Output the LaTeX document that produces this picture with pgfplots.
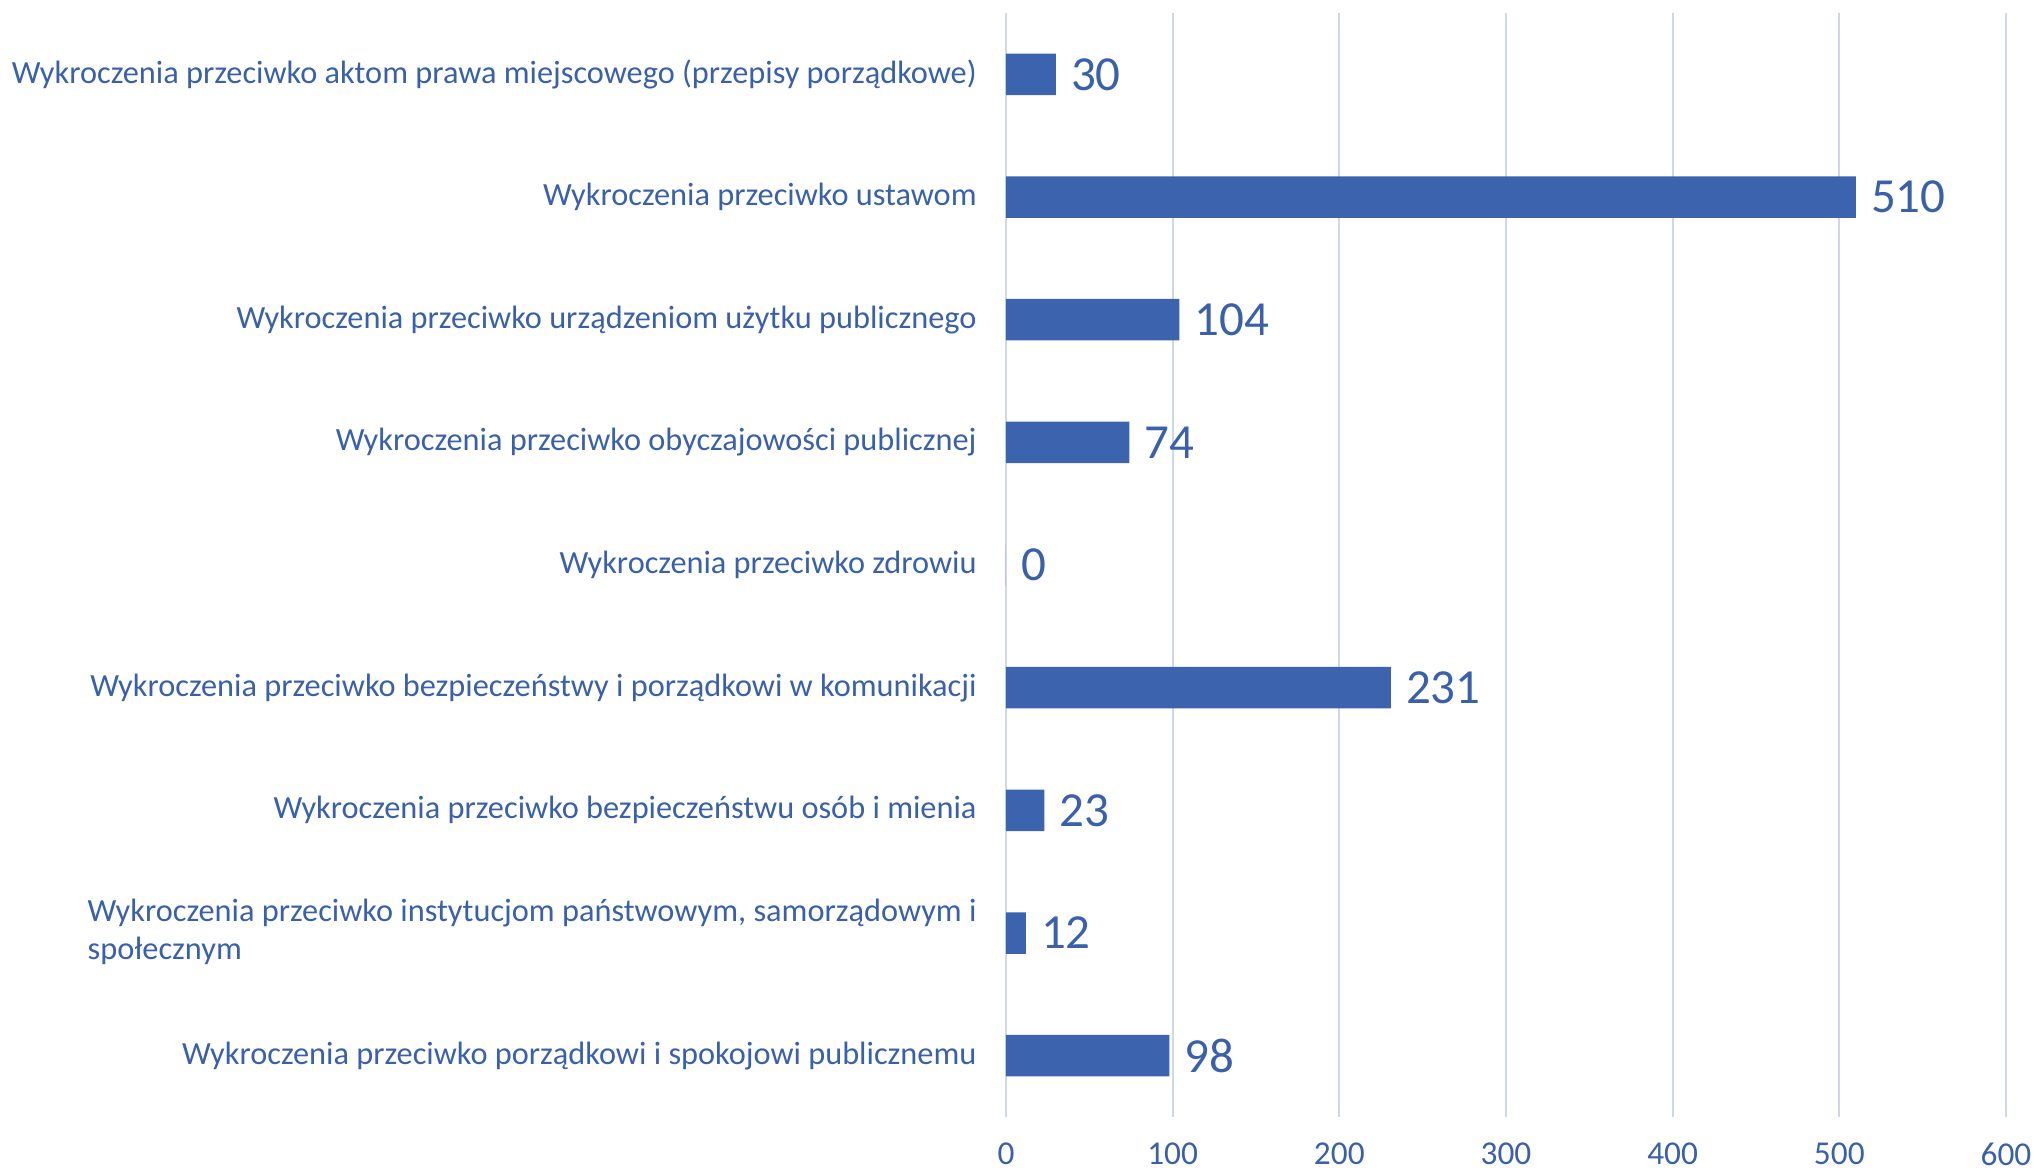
\documentclass[border=0pt]{standalone}
\usepackage{pgfplots}
\pgfplotsset{compat=1.18}
\usepackage{fontspec}
\setmainfont{Carlito}
\definecolor{barblue}{RGB}{60,100,174}
\definecolor{txtblue}{RGB}{58,96,170}
\definecolor{gridc}{RGB}{208,216,232}

\begin{document}
\begin{tikzpicture}
\begin{axis}[
  xbar,
  at={(0,0)}, anchor=south west,
  width=300pt, height=331.2pt,
  scale only axis,
  xmin=0, xmax=600,
  ymin=-0.5, ymax=8.5,
  y dir=reverse,
  enlargelimits=false,
  xtick={0,100,...,600},
  ytick={0,...,8},
  yticklabels={
    Wykroczenia przeciwko aktom prawa miejscowego (przepisy porządkowe),
    Wykroczenia przeciwko ustawom,
    Wykroczenia przeciwko urządzeniom użytku publicznego,
    Wykroczenia przeciwko obyczajowości publicznej,
    Wykroczenia przeciwko zdrowiu,
    Wykroczenia przeciwko bezpieczeństwy i porządkowi w komunikacji,
    Wykroczenia przeciwko bezpieczeństwu osób i mienia,
    {\begin{tabular}{@{}l@{}}Wykroczenia przeciwko instytucjom państwowym, samorządowym i\\społecznym\end{tabular}},
    Wykroczenia przeciwko porządkowi i spokojowi publicznemu
  },
  yticklabel style={font=\fontsize{9.7pt}{11.4pt}\selectfont, text=txtblue, xshift=-5.3pt},
  xticklabel style={font=\fontsize{10pt}{12pt}\selectfont, text=txtblue, yshift=-6.6pt, inner sep=1pt},
  /pgf/number format/assume math mode=true,
  major tick length=0pt,
  axis line style={draw=none},
  xmajorgrids,
  grid style={gridc, line width=0.6pt},
  bar width=12.45pt,
  nodes near coords,
  nodes near coords style={font=\fontsize{14.7pt}{16pt}\selectfont, text=txtblue, anchor=west, xshift=1pt},
  point meta=explicit symbolic,
]
\addplot[fill=barblue, draw=none] coordinates {
  (30,0) [30]
  (510,1) [510]
  (104,2) [104]
  (74,3) [74]
  (0,4) [0]
  (231,5) [231]
  (23,6) [23]
  (12,7) [12]
  (98,8) [98]
};
\end{axis}
\pgfresetboundingbox
\useasboundingbox (-301.8pt,-16.8pt) rectangle (309pt,335.1pt);
\end{tikzpicture}
\end{document}
